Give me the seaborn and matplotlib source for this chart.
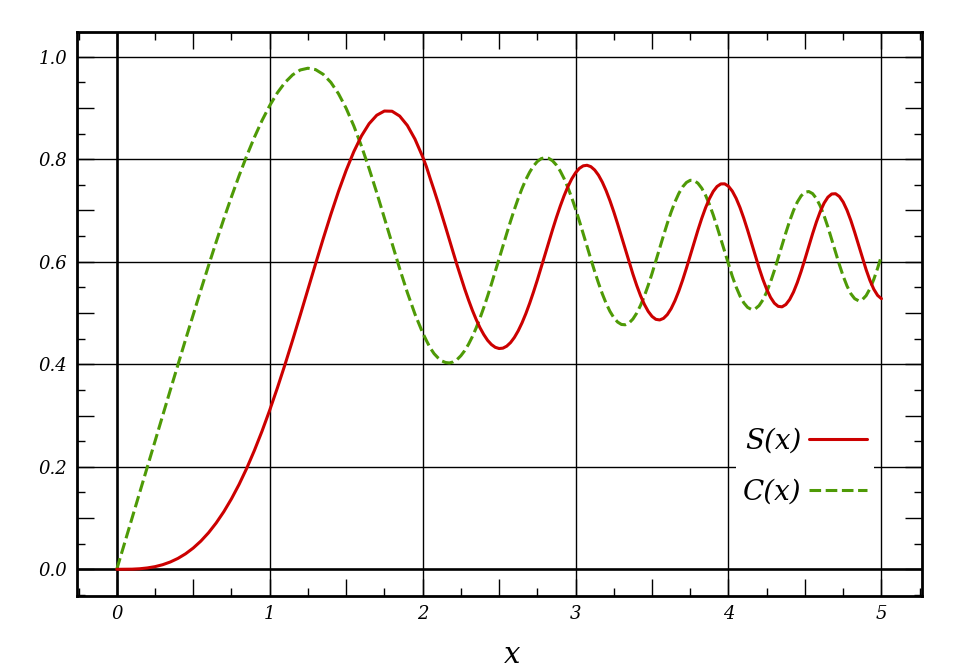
import matplotlib
matplotlib.use("Agg")
import matplotlib.pyplot as plt
import matplotlib.ticker as mticker
import seaborn as sns
import pandas as pd

# values (Fresnel integrals S(x), C(x))
x_vals = [0.0, 0.1, 0.15, 0.2, 0.25, 0.3, 0.35, 0.4, 0.45, 0.5, 0.55, 0.6, 0.65, 0.7, 0.75,
          0.8, 0.85, 0.9, 0.95,
          1.0, 1.05, 1.1, 1.15, 1.2, 1.25, 1.3, 1.35, 1.4, 1.45,
          1.5, 1.55, 1.6, 1.65, 1.7, 1.75, 1.8, 1.85, 1.9, 1.95,
          2.0, 2.025, 2.05, 2.075, 2.1, 2.125, 2.15, 2.175, 2.2, 2.225,
          2.25, 2.275, 2.3, 2.325, 2.35, 2.375, 2.4, 2.425, 2.45, 2.475,
          2.5, 2.525, 2.55, 2.575, 2.6, 2.625, 2.65, 2.675, 2.7, 2.725,
          2.75, 2.775, 2.8, 2.825, 2.85, 2.875, 2.9, 2.925, 2.95, 2.975,
          3.0, 3.025, 3.05, 3.075, 3.1, 3.125, 3.15, 3.175, 3.2, 3.225,
          3.25, 3.275, 3.3, 3.325, 3.35, 3.375, 3.4, 3.425, 3.45, 3.475,
          3.5, 3.525, 3.55, 3.575, 3.6, 3.625, 3.65, 3.675, 3.7, 3.725,
          3.75, 3.775, 3.8, 3.825, 3.85, 3.875, 3.9, 3.925, 3.95, 3.975,
          4.0, 4.025, 4.05, 4.075, 4.1, 4.125, 4.15, 4.175, 4.2, 4.225,
          4.25, 4.275, 4.3, 4.325, 4.35, 4.375, 4.4, 4.425, 4.45, 4.475,
          4.5, 4.525, 4.55, 4.575, 4.6, 4.625, 4.65, 4.675, 4.7, 4.725,
          4.75, 4.775, 4.8, 4.825, 4.85, 4.875, 4.9, 4.925, 4.95, 4.975, 5.0]

s_vals = [0.0, 0.0003, 0.0011, 0.0027, 0.0052, 0.0090, 0.0143, 0.0213, 0.0303, 0.0415,
          0.0551, 0.0713, 0.0904, 0.1124, 0.1375,
          0.1657, 0.1972, 0.2319, 0.2696,
          0.3103, 0.3536, 0.3994, 0.4471, 0.4961, 0.5460, 0.5959, 0.6450, 0.6924, 0.7372,
          0.7782, 0.8146, 0.8453, 0.8692, 0.8857, 0.8939, 0.8935, 0.8841, 0.8658, 0.8391,
          0.8048, 0.7851, 0.7619, 0.7395, 0.7162, 0.6920, 0.6676, 0.6426, 0.6180, 0.5934,
          0.5699, 0.5469, 0.5255, 0.5054, 0.4874, 0.4713, 0.4578, 0.4466, 0.4384, 0.4330,
          0.4307, 0.4314, 0.4353, 0.4423, 0.4523, 0.4652, 0.4808, 0.4988, 0.5190, 0.5410,
          0.5643, 0.5887, 0.6135, 0.6384, 0.6629, 0.6865, 0.7085, 0.7287, 0.7465, 0.7616,
          0.7735, 0.7821, 0.7870, 0.7881, 0.7854, 0.7789, 0.7688, 0.7552, 0.7384, 0.7189,
          0.6972, 0.6738, 0.6492, 0.6242, 0.5996, 0.5758, 0.5536, 0.5337, 0.5167, 0.5031,
          0.4933, 0.4876, 0.4864, 0.4895, 0.4969, 0.5085, 0.5240, 0.5427, 0.5641, 0.5875,
          0.6121, 0.6371, 0.6615, 0.6845, 0.7052, 0.7229, 0.7370, 0.7467, 0.7517, 0.7519,
          0.7471, 0.7376, 0.7236, 0.7058, 0.6848, 0.6615, 0.6369, 0.6120, 0.5878, 0.5655,
          0.5461, 0.5304, 0.5191, 0.5129, 0.5120, 0.5165, 0.5263, 0.5408, 0.5594, 0.5812,
          0.6052, 0.6301, 0.6547, 0.6777, 0.6979, 0.7143, 0.7259, 0.7321, 0.7326, 0.7272,
          0.7163, 0.7004, 0.6805, 0.6575, 0.6329, 0.6080, 0.5844, 0.5634, 0.5464, 0.5343, 0.5279]

c_vals = [0.0, 0.1000, 0.1500, 0.2000, 0.2499, 0.2998, 0.3495, 0.3990, 0.4482, 0.4969,
          0.5450, 0.5923, 0.6385, 0.6834, 0.7266,
          0.7678, 0.8066, 0.8427, 0.8755,
          0.9045, 0.9294, 0.9495, 0.9645, 0.9740, 0.9774, 0.9747, 0.9655, 0.9498, 0.9276,
          0.8992, 0.8649, 0.8255, 0.7817, 0.7346, 0.6853, 0.6354, 0.5863, 0.5399, 0.4977,
          0.4615, 0.4461, 0.4317, 0.4206, 0.4127, 0.4065, 0.4034, 0.4025, 0.4046, 0.4091,
          0.4166, 0.4265, 0.4389, 0.4537, 0.4708, 0.4899, 0.5107, 0.5331, 0.5565, 0.5809,
          0.6057, 0.6307, 0.6552, 0.6792, 0.7020, 0.7234, 0.7429, 0.7602, 0.7748, 0.7867,
          0.7955, 0.8010, 0.8030, 0.8016, 0.7967, 0.7884, 0.7768, 0.7621, 0.7446, 0.7247,
          0.7028, 0.6793, 0.6549, 0.6300, 0.6051, 0.5810, 0.5582, 0.5373, 0.5187, 0.5031,
          0.4909, 0.4823, 0.4776, 0.4770, 0.4806, 0.4882, 0.4998, 0.5149, 0.5331, 0.5540,
          0.5770, 0.6013, 0.6263, 0.6511, 0.6749, 0.6970, 0.7166, 0.7331, 0.7459, 0.7546,
          0.7588, 0.7583, 0.7531, 0.7434, 0.7296, 0.7120, 0.6913, 0.6683, 0.6439, 0.6189,
          0.5945, 0.5714, 0.5507, 0.5332, 0.5198, 0.5109, 0.5069, 0.5081, 0.5144, 0.5256,
          0.5412, 0.5606, 0.5829, 0.6071, 0.6320, 0.6565, 0.6795, 0.6998, 0.7164, 0.7285,
          0.7355, 0.7369, 0.7328, 0.7232, 0.7085, 0.6897, 0.6676, 0.6434, 0.6186, 0.5942,
          0.5718, 0.5526, 0.5376, 0.5279, 0.5239, 0.5260, 0.5339, 0.5474, 0.5655, 0.5873, 0.6115]

grid_x = [1, 2, 3, 4, 5]
grid_y = [0.2, 0.4, 0.6, 0.8, 1.0]

df = pd.DataFrame({"x": x_vals, "S": s_vals, "C": c_vals})

sns.set_theme(style="white")
plt.rcParams["font.family"] = ["DejaVu Serif", "DejaVu Sans"]
plt.rcParams["font.style"] = "italic"
plt.rcParams["text.color"] = "black"
plt.rcParams["axes.labelcolor"] = "black"

fig = plt.figure(figsize=(9.6, 6.72), dpi=100)
ax = fig.add_axes([0.0802, 0.1135, 0.8797, 0.8396])

# grid: thin lines, thicker through the origin
for gx in grid_x:
    ax.axvline(gx, color="black", lw=1.0, zorder=1)
for gy in grid_y:
    ax.axhline(gy, color="black", lw=1.0, zorder=1)
ax.axvline(0, color="black", lw=1.9, zorder=1)
ax.axhline(0, color="black", lw=1.9, zorder=1)

sns.lineplot(data=df, x="x", y="C", ax=ax, color="#4e9a06", lw=2.2,
             label="C(x)", zorder=3)
ax.lines[-1].set_dashes((3.8, 1.5))
sns.lineplot(data=df, x="x", y="S", ax=ax, color="#cc0000", lw=2.2,
             label="S(x)", zorder=4)

ax.set_xlim(-0.26, 5.262)
ax.set_ylim(-0.0515, 1.049)

ax.xaxis.set_major_locator(mticker.MultipleLocator(0.5))
ax.xaxis.set_minor_locator(mticker.MultipleLocator(0.25))
ax.yaxis.set_major_locator(mticker.MultipleLocator(0.1))
ax.yaxis.set_minor_locator(mticker.MultipleLocator(0.05))
ax.xaxis.set_major_formatter(mticker.FuncFormatter(
    lambda v, p: "%d" % round(v) if abs(v - round(v)) < 1e-6 else ""))
ax.yaxis.set_major_formatter(mticker.FuncFormatter(
    lambda v, p: "%.1f" % v if round(v * 10) % 2 == 0 else ""))

ax.tick_params(which="both", direction="in", top=True, right=True,
               bottom=True, left=True, color="black", labelcolor="black",
               width=1.0, labelsize=13, pad=7)
ax.tick_params(which="major", length=12)
ax.tick_params(which="minor", length=5.8)
for lab in ax.get_xticklabels() + ax.get_yticklabels():
    lab.set_fontstyle("italic")
for sp in ax.spines.values():
    sp.set_linewidth(2.0)
    sp.set_color("black")

ax.set_xlabel("x", fontsize=21, fontstyle="italic")
ax.set_ylabel("")
ax.xaxis.set_label_coords(0.515, -0.119)
ax.xaxis.label.set_va("baseline")

handles, labels = ax.get_legend_handles_labels()
leg = ax.legend(handles[::-1], labels[::-1], loc="center right",
                bbox_to_anchor=(0.944, 0.229), fontsize=20, markerfirst=False,
                frameon=True, fancybox=False, framealpha=1.0, edgecolor="white",
                handlelength=2.1, handletextpad=0.25, labelspacing=0.85,
                borderpad=0.25, borderaxespad=0.0)
leg.get_frame().set_linewidth(0)
leg.set_zorder(5)
for t in leg.get_texts():
    t.set_color("black")
    t.set_fontstyle("italic")

fig.savefig("out.png", dpi=100, facecolor="white")
